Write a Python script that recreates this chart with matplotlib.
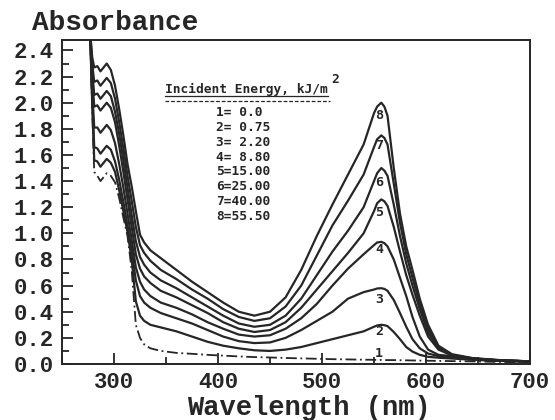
import numpy as np
import matplotlib
matplotlib.use("Agg")
import matplotlib.pyplot as plt
from matplotlib.ticker import MultipleLocator

# wavelength grid (nm) shared by all spectra
wavelength = [268, 277, 279, 281, 284, 287, 290, 293, 297, 301, 305, 309, 313, 317,
              321, 325, 329, 335, 345, 360, 375, 390, 405, 420, 435, 450, 465, 480,
              495, 510, 525, 540, 550, 553, 557, 560, 563, 569, 575, 581, 587, 594,
              602, 612, 625, 645, 670, 700]

# absorbance, one list per incident energy
a1 = [3.0, 2.55, 1.95, 1.47, 1.44, 1.40, 1.43, 1.46, 1.44, 1.39, 1.27, 1.12, 0.98, 0.72,
      0.30, 0.20, 0.15, 0.12, 0.10, 0.085, 0.078, 0.07, 0.064, 0.058, 0.053, 0.05, 0.046, 0.043,
      0.04, 0.037, 0.035, 0.033, 0.032, 0.031, 0.031, 0.03, 0.03, 0.03, 0.029, 0.028, 0.027, 0.026,
      0.025, 0.024, 0.022, 0.02, 0.016, 0.012]
a2 = [3.0, 2.55, 2.00, 1.56, 1.55, 1.51, 1.54, 1.57, 1.54, 1.47, 1.33, 1.17, 1.01, 0.80,
      0.48, 0.37, 0.33, 0.30, 0.28, 0.25, 0.21, 0.17, 0.14, 0.12, 0.105, 0.10, 0.11, 0.13,
      0.16, 0.19, 0.22, 0.25, 0.285, 0.295, 0.30, 0.297, 0.29, 0.245, 0.19, 0.13, 0.095, 0.07,
      0.055, 0.048, 0.042, 0.032, 0.024, 0.018]
a3 = [3.0, 2.55, 2.05, 1.66, 1.65, 1.61, 1.64, 1.67, 1.64, 1.55, 1.41, 1.24, 1.06, 0.87,
      0.64, 0.52, 0.47, 0.43, 0.39, 0.35, 0.31, 0.26, 0.21, 0.175, 0.16, 0.165, 0.20, 0.26,
      0.33, 0.40, 0.50, 0.55, 0.57, 0.578, 0.58, 0.575, 0.56, 0.49, 0.39, 0.285, 0.19, 0.12,
      0.08, 0.06, 0.05, 0.035, 0.025, 0.018]
a4 = [3.0, 2.55, 2.10, 1.81, 1.81, 1.77, 1.80, 1.83, 1.79, 1.69, 1.53, 1.35, 1.15, 0.95,
      0.74, 0.63, 0.57, 0.52, 0.47, 0.43, 0.38, 0.32, 0.27, 0.225, 0.21, 0.22, 0.27, 0.35,
      0.46, 0.60, 0.73, 0.84, 0.91, 0.93, 0.935, 0.925, 0.90, 0.80, 0.66, 0.52, 0.36, 0.21,
      0.11, 0.07, 0.06, 0.04, 0.027, 0.02]
a5 = [3.0, 2.55, 2.20, 1.97, 1.98, 1.94, 1.97, 2.00, 1.96, 1.85, 1.67, 1.47, 1.26, 1.05,
      0.84, 0.73, 0.67, 0.62, 0.56, 0.51, 0.45, 0.39, 0.32, 0.27, 0.245, 0.26, 0.32, 0.43,
      0.57, 0.71, 0.85, 1.00, 1.17, 1.23, 1.26, 1.245, 1.21, 1.05, 0.86, 0.68, 0.53, 0.37,
      0.21, 0.11, 0.065, 0.04, 0.028, 0.02]
a6 = [3.0, 2.55, 2.25, 2.06, 2.07, 2.03, 2.06, 2.09, 2.05, 1.93, 1.76, 1.56, 1.35, 1.14,
      0.94, 0.82, 0.76, 0.70, 0.64, 0.58, 0.51, 0.44, 0.37, 0.31, 0.285, 0.30, 0.37, 0.50,
      0.68, 0.86, 1.02, 1.20, 1.40, 1.46, 1.50, 1.48, 1.44, 1.22, 0.98, 0.77, 0.60, 0.42,
      0.24, 0.12, 0.068, 0.042, 0.028, 0.02]
a7 = [3.0, 2.55, 2.30, 2.16, 2.17, 2.13, 2.16, 2.19, 2.15, 2.03, 1.85, 1.65, 1.44, 1.25,
      1.05, 0.91, 0.85, 0.79, 0.72, 0.65, 0.57, 0.50, 0.42, 0.36, 0.33, 0.35, 0.44, 0.60,
      0.83, 1.06, 1.25, 1.45, 1.66, 1.72, 1.75, 1.73, 1.68, 1.38, 1.08, 0.84, 0.66, 0.46,
      0.27, 0.13, 0.07, 0.043, 0.03, 0.02]
a8 = [3.0, 2.55, 2.35, 2.27, 2.28, 2.24, 2.27, 2.30, 2.25, 2.13, 1.95, 1.75, 1.53, 1.36,
      1.17, 0.99, 0.93, 0.87, 0.81, 0.72, 0.63, 0.55, 0.47, 0.40, 0.37, 0.40, 0.51, 0.72,
      0.98, 1.22, 1.45, 1.68, 1.92, 1.97, 2.00, 1.97, 1.90, 1.50, 1.15, 0.90, 0.72, 0.50,
      0.30, 0.14, 0.075, 0.045, 0.03, 0.02]
spectra = [a1, a2, a3, a4, a5, a6, a7, a8]

legend_rows = ["1= 0.0", "2= 0.75", "3= 2.20", "4= 8.80",
               "5=15.00", "6=25.00", "7=40.00", "8=55.50"]
peak_label_y = [0.08, 0.245, 0.49, 0.88, 1.16, 1.39, 1.67, 1.90]

ink = "#262626"
mono = "Liberation Mono"
dot = "DejaVu Sans Mono"

fig = plt.figure(figsize=(5.55, 4.2), dpi=100)
ax = fig.add_axes([62 / 555, 1 - 364 / 420, 468 / 555, 324 / 420])

for i, a in enumerate(spectra):
    if i == 0:
        ax.plot(wavelength, a, color=ink, lw=1.3, ls=(0, (6, 2, 1, 2)))
    else:
        ax.plot(wavelength, a, color=ink, lw=1.6)
    ax.text(555, peak_label_y[i], str(i + 1), family=dot, weight="bold",
            fontsize=9.5, color=ink, ha="center", va="center")

ax.set_xlim(250, 700)
ax.set_ylim(0, 2.48)
ax.set_xticks([300, 400, 500, 600, 700])
ax.xaxis.set_minor_locator(MultipleLocator(50))
ax.yaxis.set_major_locator(MultipleLocator(0.2))
ax.yaxis.set_minor_locator(MultipleLocator(0.1))
ax.yaxis.set_major_formatter(plt.FormatStrFormatter("%.1f"))
ax.tick_params(which="both", direction="in", color=ink, width=1.3)
ax.tick_params(which="major", length=8, labelsize=16, labelcolor=ink)
ax.tick_params(which="minor", length=5)
ax.tick_params(axis="x", which="major", pad=6)
ax.tick_params(axis="y", which="major", pad=6)
for lab in ax.get_xticklabels() + ax.get_yticklabels():
    lab.set_family(mono)
    lab.set_weight("bold")
for s in ax.spines.values():
    s.set_color(ink)
    s.set_linewidth(1.4)

# legend block
ax.text(0.22, 0.846, "Incident Energy, kJ/m", transform=ax.transAxes, family=dot,
        weight="bold", fontsize=9.3, color=ink, ha="left", va="center")
ax.text(0.575, 0.877, "2", transform=ax.transAxes, family=dot, weight="bold",
        fontsize=9.3, color=ink, ha="left", va="center")
ax.plot([0.22, 0.568], [0.826, 0.826], transform=ax.transAxes, color=ink, lw=0.9)
ax.plot([0.22, 0.572], [0.813, 0.813], transform=ax.transAxes, color=ink, lw=0.9,
        ls=(0, (3, 1.5)))
for i, row in enumerate(legend_rows):
    ax.text(0.329, 0.775 - i * 0.0455, row, transform=ax.transAxes, family=dot,
            weight="bold", fontsize=9.3, color=ink, ha="left", va="center")

fig.text(32 / 555, 1 - 23 / 420, "Absorbance", family=mono, weight="bold",
         fontsize=20, color=ink, ha="left", va="center")
fig.text(309 / 555, 1 - 415 / 420, "Wavelength (nm)", family=mono, weight="bold",
         fontsize=19.5, color=ink, ha="center", va="baseline")

fig.savefig("out.png", dpi=100, facecolor="white")
